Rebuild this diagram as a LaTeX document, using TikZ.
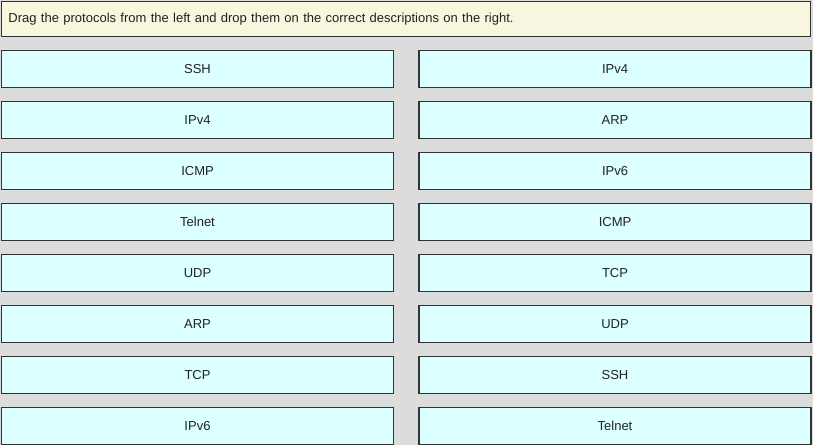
\documentclass[tikz,border=0pt]{standalone}
\usepackage{fontspec}
\setmainfont{Liberation Sans}
\definecolor{panelgrey}{HTML}{DCDCDC}
\definecolor{slotfill}{HTML}{DCFFFF}
\definecolor{taskfill}{HTML}{F8F6DE}
\definecolor{edgegrey}{HTML}{333333}
\definecolor{inkgrey}{HTML}{222222}
\begin{document}
\begin{tikzpicture}[x=1pt,y=-1pt,
    slot/.style={draw=edgegrey,line width=1.3pt,fill=slotfill,minimum width=392pt,minimum height=37pt,inner sep=0pt,text=inkgrey,font=\fontsize{13}{15}\selectfont},
    task/.style={draw=edgegrey,line width=1.3pt,fill=taskfill,minimum width=809pt,minimum height=35pt,inner sep=0pt,text width=795pt,align=left,text=inkgrey,font=\fontsize{13}{15}\selectfont}]
        \fill[panelgrey] (0,0) rectangle (813,445);
        \useasboundingbox (0,0) rectangle (813,445);
        \node[task] (T) at (406,19) {Drag the protocols from the left and drop them on the correct descriptions on the right.};
        % protocols
        \node[slot] (L1) at (197.5,69) {SSH};
        \node[slot] (L2) at (197.5,120) {IPv4};
        \node[slot] (L3) at (197.5,171) {ICMP};
        \node[slot] (L4) at (197.5,222) {Telnet};
        \node[slot] (L5) at (197.5,273) {UDP};
        \node[slot] (L6) at (197.5,324) {ARP};
        \node[slot] (L7) at (197.5,375) {TCP};
        \node[slot] (L8) at (197.5,426) {IPv6};
        % descriptions
        \node[slot] (R1) at (615,69) {IPv4};
        \node[slot] (R2) at (615,120) {ARP};
        \node[slot] (R3) at (615,171) {IPv6};
        \node[slot] (R4) at (615,222) {ICMP};
        \node[slot] (R5) at (615,273) {TCP};
        \node[slot] (R6) at (615,324) {UDP};
        \node[slot] (R7) at (615,375) {SSH};
        \node[slot] (R8) at (615,426) {Telnet};
\end{tikzpicture}
\end{document}
